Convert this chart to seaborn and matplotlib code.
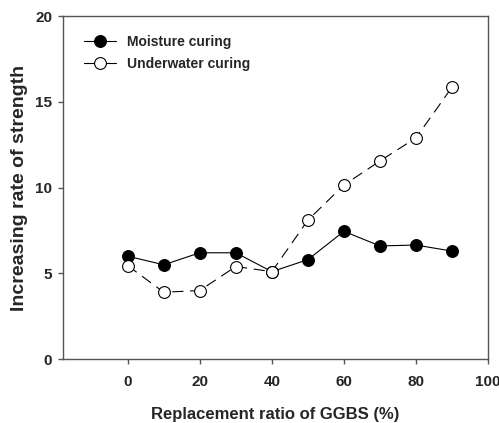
import matplotlib
matplotlib.use("Agg")
import matplotlib.pyplot as plt
import seaborn as sns
import pandas as pd

ratio = [0, 10, 20, 30, 40, 50, 60, 70, 80, 90]
moisture = [6.0, 5.5, 6.2, 6.2, 5.1, 5.8, 7.45, 6.6, 6.65, 6.3]
underwater = [5.45, 3.9, 4.0, 5.4, 5.1, 8.1, 10.15, 11.55, 12.9, 15.85]
xticks = [0, 20, 40, 60, 80, 100]
yticks = [0, 5, 10, 15, 20]

sns.set_style("ticks")
plt.rcParams['font.family'] = ['Liberation Sans', 'DejaVu Sans']
plt.rcParams['font.weight'] = 'bold'

df = pd.DataFrame({"ratio": ratio, "Moisture curing": moisture, "Underwater curing": underwater})

fig = plt.figure(figsize=(4.99, 4.23), dpi=100)
ax = fig.add_axes([0.126, 0.151, 0.852, 0.811])

sns.lineplot(data=df, x="ratio", y="Moisture curing", ax=ax, color="black", lw=0.8,
             marker="o", markersize=8.5, markerfacecolor="black", markeredgecolor="black",
             markeredgewidth=0.8, label="Moisture curing")
sns.lineplot(data=df, x="ratio", y="Underwater curing", ax=ax, color="black", lw=0.8,
             marker="o", markersize=8.5, markerfacecolor="white", markeredgecolor="black",
             markeredgewidth=0.8, label="Underwater curing", dashes=False)
ax.lines[1].set_dashes([10, 6])

ax.set_xlim(-18, 100)
ax.set_ylim(0, 20)
ax.set_xticks(xticks)
ax.set_yticks(yticks)
ax.tick_params(axis='both', direction='out', length=3.6, width=1, color='#555555',
               labelsize=11)
ax.tick_params(axis='x', pad=7.5)
ax.tick_params(axis='y', pad=4)
for lab in ax.get_xticklabels() + ax.get_yticklabels():
    lab.set_fontweight('bold')
for sp in ax.spines.values():
    sp.set_visible(True)
    sp.set_color('#555555')
    sp.set_linewidth(1.0)

ax.set_xlabel("Replacement ratio of GGBS (%)", fontsize=12, fontweight='bold', labelpad=13)
ax.set_ylabel("Increasing rate of strength", fontsize=14, fontweight='bold', labelpad=5)

leg = ax.legend(loc='upper left', frameon=False, fontsize=10, handlelength=2.3,
                borderaxespad=0.0, labelspacing=0.6, handletextpad=0.8,
                borderpad=0.0, bbox_to_anchor=(0.05, 0.945))
for t in leg.get_texts():
    t.set_fontweight('bold')
leg.get_lines()[1].set_linestyle('-')

fig.savefig("out.png", dpi=100)
